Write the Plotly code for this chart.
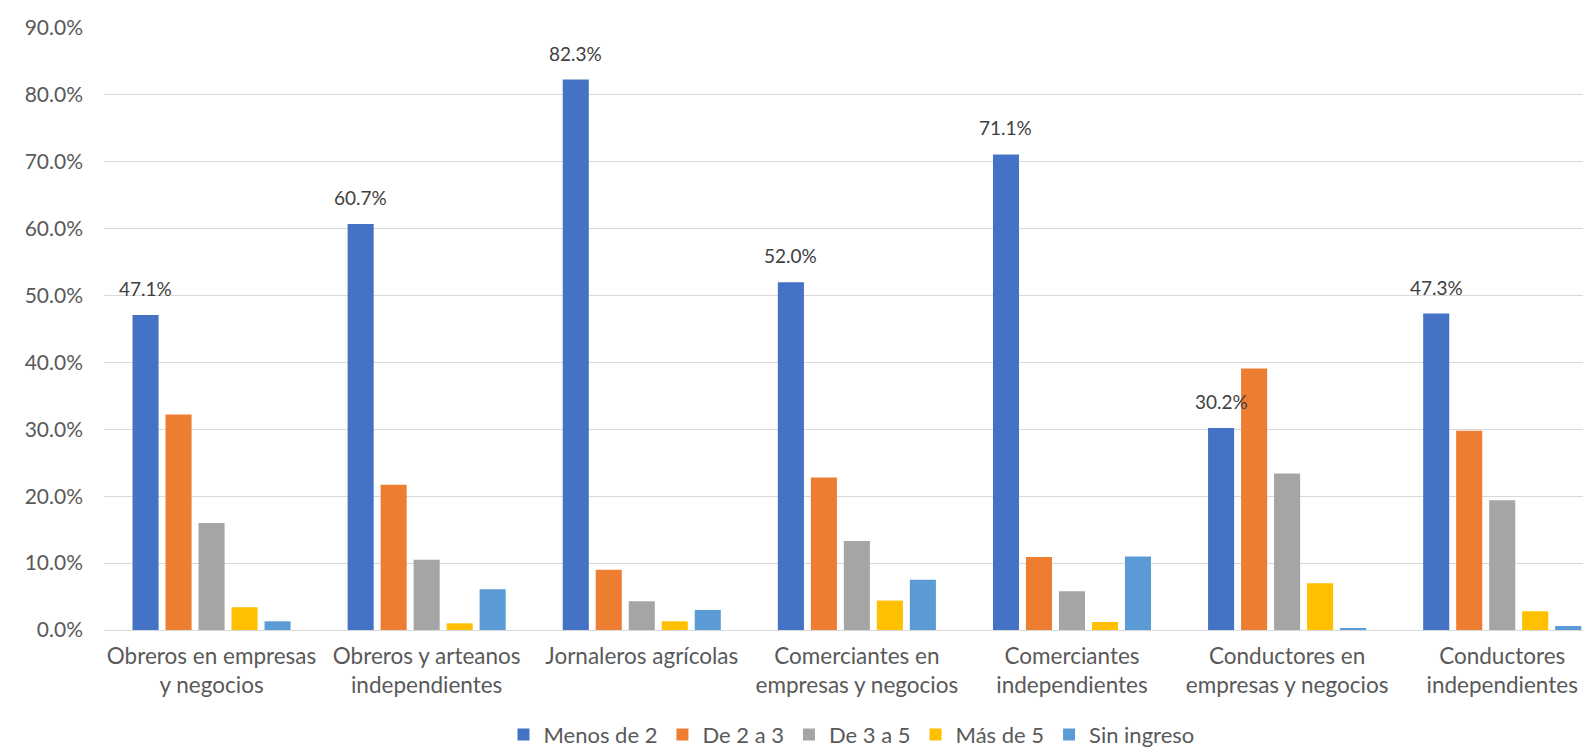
import plotly.graph_objects as go

categories = [
    "Obreros en empresas<br>y negocios",
    "Obreros y arteanos<br>independientes",
    "Jornaleros agrícolas",
    "Comerciantes en<br>empresas y negocios",
    "Comerciantes<br>independientes",
    "Conductores en<br>empresas y negocios",
    "Conductores<br>independientes",
]
series_names = ["Menos de 2", "De 2 a 3", "De 3 a 5", "Más de 5", "Sin ingreso"]
menos_de_2 = [0.471, 0.607, 0.823, 0.520, 0.711, 0.302, 0.473]
de_2_a_3 = [0.322, 0.217, 0.090, 0.228, 0.109, 0.391, 0.298]
de_3_a_5 = [0.160, 0.105, 0.043, 0.133, 0.058, 0.234, 0.194]
mas_de_5 = [0.034, 0.010, 0.013, 0.044, 0.012, 0.070, 0.028]
sin_ingreso = [0.013, 0.061, 0.030, 0.075, 0.110, 0.003, 0.006]
colors = ["#4472C4", "#ED7D31", "#A5A5A5", "#FFC000", "#5B9BD5"]

all_series = [menos_de_2, de_2_a_3, de_3_a_5, mas_de_5, sin_ingreso]

W, H = 1591, 749
ML, MR, MT, MB = 96, 0, 20, 127
BARGAP, GROUPGAP = 0.233, 0.21
X_RANGE = [-0.5, 6.45]

fig = go.Figure()
for name, vals, col in zip(series_names, all_series, colors):
    fig.add_trace(go.Bar(x=categories, y=vals, name=name, marker_color=col,
                         marker_line_width=0))

# data labels on first series (offset to the first bar of each group)
cat_px = (W - ML - MR) / (X_RANGE[1] - X_RANGE[0])
slot_px = (1 - BARGAP) * cat_px / len(series_names)
first_off = -(len(series_names) - 1) / 2 * slot_px
for c, v in zip(categories, menos_de_2):
    fig.add_annotation(x=c, y=v, text=f"{v*100:.1f}%", showarrow=False,
                       xanchor="center", yanchor="bottom", yshift=13,
                       xshift=first_off,
                       font=dict(size=19, color="#404040"))

fig.update_layout(
    barmode="group",
    bargap=BARGAP,
    bargroupgap=GROUPGAP,
    width=W, height=H,
    plot_bgcolor="white", paper_bgcolor="white",
    font=dict(family="Lato, Liberation Sans, sans-serif", color="#595959", size=20),
    margin=dict(l=ML, r=MR, t=MT, b=MB, autoexpand=False),
    yaxis=dict(range=[0, 0.9], dtick=0.1, tickformat=".1%", showgrid=True,
               gridcolor="#D9D9D9", gridwidth=1.3, zeroline=True, zerolinecolor="#D9D9D9",
               zerolinewidth=1.3,
               ticks="", tickfont=dict(size=21, color="#595959"), ticklabelstandoff=20),
    xaxis=dict(range=X_RANGE, tickfont=dict(size=22.5, color="#595959"), showline=False,
               ticks="", ticklabelstandoff=10),
    legend=dict(orientation="h", x=0.5, xanchor="center", y=-0.174, yanchor="middle",
                font=dict(size=22, color="#595959"), traceorder="normal",
                itemwidth=30),
)

fig.write_html("out.html")
